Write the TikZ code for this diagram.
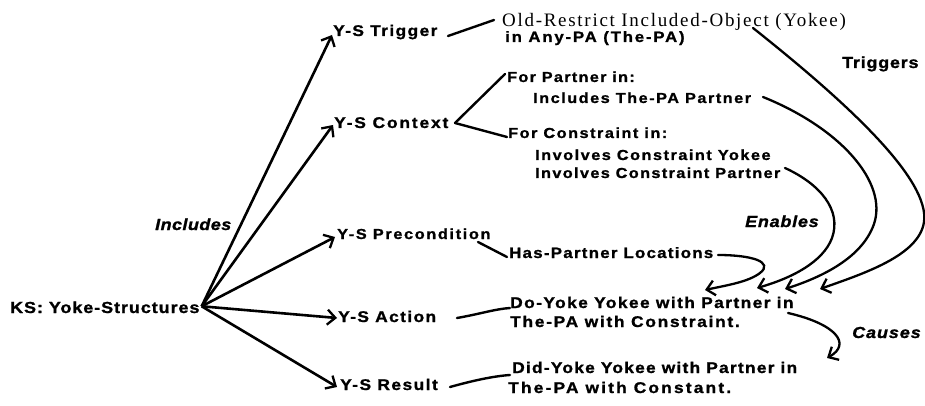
\documentclass[tikz,border=0pt]{standalone}
\usepackage{fontspec}
\usetikzlibrary{arrows.meta}
\newfontfamily\hv{Liberation Sans}[FakeStretch=1.12,FakeBold=1.2]
\newfontfamily\tms{Liberation Serif}
\tikzset{
  txt/.style 2 args={inner sep=0pt, anchor=base west,
    font=\hv\bfseries\fontsize{#1}{#1}\selectfont\addfontfeatures{LetterSpace=#2}},
  itxt/.style 2 args={inner sep=0pt, anchor=base west,
    font=\hv\bfseries\itshape\fontsize{#1}{#1}\selectfont\addfontfeatures{LetterSpace=#2}},
  serif/.style 2 args={inner sep=0pt, anchor=base west,
    font=\tms\fontsize{#1}{#1}\selectfont\addfontfeatures{LetterSpace=#2}},
  barb/.tip={Straight Barb[length=8pt,width=15pt,line width=2.3pt]},
  tree/.style={line width=2.6pt, -barb},
  link/.style={line width=2.4pt, line cap=round},
  flow/.style={line width=2.3pt, line cap=round, -barb},
}
\begin{document}
\begin{tikzpicture}[x=1pt,y=-1pt]
  \useasboundingbox[fill=white] (0,0) rectangle (925,406);

  % root and its five parts
  \node[txt={16}{6}] (ks) at (10,313) {KS: Yoke-Structures};
  \node[itxt={16}{3}] (includes) at (155,230) {Includes};
  \node[txt={15.5}{9}] (trig) at (333,36) {Y-S Trigger};
  \node[txt={15.5}{12}] (ctx) at (334,128) {Y-S Context};
  \node[txt={14.5}{11.5}] (pre) at (337,239) {Y-S Precondition};
  \node[txt={15.5}{9}] (act) at (338,322) {Y-S Action};
  \node[txt={15.5}{9.5}] (res) at (340,390) {Y-S Result};

  % contents of each part
  \node[serif={19}{9}] (old) at (502,27) {Old-Restrict Included-Object (Yokee)};
  \node[txt={15}{12}] (any) at (505,42) {in Any-PA (The-PA)};
  \node[txt={14.5}{9}] (fp) at (507,82) {For Partner in:};
  \node[txt={14.5}{10.5}] (fpinc) at (533,103) {Includes The-PA Partner};
  \node[txt={14.5}{10.5}] (fc) at (508,138) {For Constraint in:};
  \node[txt={14.5}{10.5}] (inv1) at (535,160) {Involves Constraint Yokee};
  \node[txt={14.5}{9.5}] (inv2) at (535,178) {Involves Constraint Partner};
  \node[txt={15}{8.7}] (hpl) at (509,258) {Has-Partner Locations};
  \node[txt={15.5}{9.2}] (doy1) at (510,308) {Do-Yoke Yokee with Partner in};
  \node[txt={15.5}{11}] (doy2) at (510,327) {The-PA with Constraint.};
  \node[txt={15.5}{8}] (did1) at (512,373) {Did-Yoke Yokee with Partner in};
  \node[txt={15.5}{14}] (did2) at (508,393) {The-PA with Constant.};

  % relation labels
  \node[txt={16}{5}] (triggers) at (842,68) {Triggers};
  \node[itxt={16}{5}] (enables) at (745,227) {Enables};
  \node[itxt={16}{6}] (causes) at (852,338) {Causes};

  % tree edges
  \draw[tree] ([shift={(2,-1)}]ks.east) -- ([shift={(-1,-1)}]trig.base west);
  \draw[tree] ([shift={(2,-1)}]ks.east) -- ([shift={(-1,-3)}]ctx.base west);
  \draw[tree] ([shift={(2,-1)}]ks.east) -- ([shift={(-2,-2)}]pre.base west);
  \draw[tree] ([shift={(2,-1)}]ks.east) -- ([shift={(-1,-4)}]act.base west);
  \draw[tree] ([shift={(2,-1)}]ks.east) -- ([shift={(-3,-3)}]res.base west);

  % short links from parts to contents
  \draw[link] ([shift={(115,0)}]trig.base west) -- ([shift={(-8,-7)}]old.base west);
  \draw[link] ([shift={(121,-5)}]ctx.base west) -- ([shift={(-2,-8)}]fp.base west);
  \draw[link] ([shift={(121,-5)}]ctx.base west) -- ([shift={(-1,-1)}]fc.base west);
  \draw[link] ([shift={(141,3)}]pre.base west) -- ([shift={(-2,-1)}]hpl.base west);
  \draw[link] ([shift={(119,-4)}]act.base west) .. controls (480,314) and (495,309) .. ([shift={(0,0)}]doy1.base west);
  \draw[link] ([shift={(110,-3)}]res.base west) .. controls (475,380) and (495,376) .. ([shift={(-2,2)}]did1.base west);

  % curved relation arrows
  \draw[flow] ([shift={(251,1)}]old.base west)
    .. controls (850,105) and (930,180) .. (924,222)
    .. controls (919,256) and (862,274) .. ([shift={(310,-19)}]doy1.base west);
  \draw[flow] ([shift={(230,-6)}]fpinc.base west)
    .. controls (840,128) and (888,182) .. (874,224)
    .. controls (862,258) and (822,277) .. ([shift={(275,-19)}]doy1.base west);
  \draw[flow] ([shift={(250,-10)}]inv2.base west)
    .. controls (820,184) and (842,210) .. (832,238)
    .. controls (823,262) and (792,278) .. ([shift={(247,-20)}]doy1.base west);
  \draw[flow] ([shift={(209,-3)}]hpl.base west)
    .. controls (752,255) and (774,262) .. (760,273)
    .. controls (748,282) and (728,285) .. ([shift={(195,-18)}]doy1.base west);
  \draw[flow] ([shift={(278,-14)}]doy2.base west)
    .. controls (836,324) and (852,344) .. ([shift={(315,-15)}]did1.base west);
\end{tikzpicture}
\end{document}
